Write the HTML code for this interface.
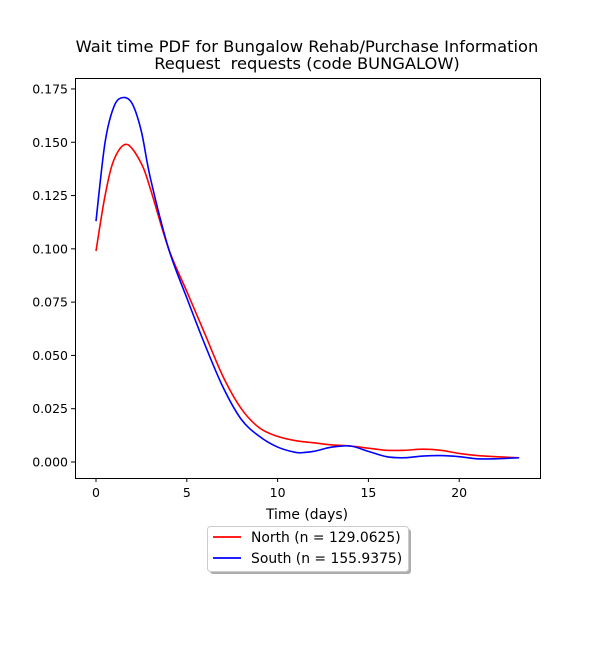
<!DOCTYPE html>
<html><head><meta charset="utf-8"><style>
body{margin:0;background:#fff;}
svg text{font-family:"DejaVu Sans","Liberation Sans",sans-serif;fill:#000;white-space:pre;}
</style></head><body>
<svg width="600" height="650" viewBox="0 0 600 650">
<rect width="600" height="650" fill="#fff"/>
<text x="307" y="52" font-size="16.3" text-anchor="middle">Wait time PDF for Bungalow Rehab/Purchase Information</text>
<text x="307" y="69" font-size="16.3" text-anchor="middle">Request&#160; requests (code BUNGALOW)</text>
<g id="plot"></g>
<rect x="75.5" y="78.5" width="465" height="400" fill="none" stroke="#000" stroke-width="1"/>
<text x="307" y="519" font-size="13.9" text-anchor="middle">Time (days)</text>
<g>
<rect x="210" y="529" width="201" height="45" fill="#777" opacity="0.6" rx="3"/>
<rect x="207.5" y="526.5" width="201" height="45" fill="#fff" stroke="#ccc" rx="3"/>
<line x1="213" y1="537" x2="241" y2="537" stroke="red" stroke-width="1.8"/>
<text x="251" y="542" font-size="13.9">North (n = 129.0625)</text>
<line x1="213" y1="558" x2="241" y2="558" stroke="blue" stroke-width="1.8"/>
<text x="251" y="563" font-size="13.9">South (n = 155.9375)</text>
</g>
</svg>
<script>
const xTicks=[0,5,10,15,20];
const yTicks=[0,0.025,0.05,0.075,0.1,0.125,0.15,0.175];
const yTickLabels=["0.000","0.025","0.050","0.075","0.100","0.125","0.150","0.175"];
const northX=[0,0.5,1,1.7,2.5,3,4,5,6,7,8,9,10,11,12,13,14,15,16,17,18,19,20,21,22,23.3];
const northY=[0.099,0.125,0.142,0.149,0.140,0.128,0.100,0.080,0.060,0.040,0.025,0.016,0.012,0.010,0.009,0.008,0.0075,0.0065,0.0055,0.0055,0.006,0.0055,0.004,0.003,0.0025,0.002];
const southX=[0,0.5,1,1.5,2,2.5,3,4,5,6,7,8,9,10,11,11.5,12,13,14,15,16,17,18,19,20,21,22,23.3];
const southY=[0.113,0.150,0.167,0.171,0.168,0.155,0.133,0.100,0.077,0.055,0.035,0.020,0.012,0.007,0.0045,0.0045,0.005,0.007,0.0075,0.005,0.0025,0.002,0.0028,0.003,0.0025,0.0015,0.0015,0.002];
const sx=v=>96+v*18.16;
const sy=v=>462-v/0.025*53.29;
const NS="http://www.w3.org/2000/svg";
const g=document.getElementById('plot');
function mk(t,a){const e=document.createElementNS(NS,t);for(const k in a)e.setAttribute(k,a[k]);g.appendChild(e);return e;}
xTicks.forEach(v=>{
 const l=mk('line',{x1:sx(v),x2:sx(v),y1:478.5,y2:482,stroke:'#000'});
 
 
 const t=mk('text',{x:sx(v),y:497,'font-size':12.5,'text-anchor':'middle'});t.textContent=v;
 
 
});
yTicks.forEach((v,i)=>{
 const l=mk('line',{x1:71,x2:75.5,y1:sy(v),y2:sy(v),stroke:'#000'});
 
 
 const t=mk('text',{x:68,y:sy(v)+4.5,'font-size':12.5,'text-anchor':'end'});t.textContent=yTickLabels[i];
 
 
});
function smooth(xs,ys){
 const p=xs.map((x,i)=>[sx(x),sy(ys[i])]);
 let d='M'+p[0][0]+','+p[0][1];
 for(let i=0;i<p.length-1;i++){
  const p0=p[Math.max(0,i-1)],p1=p[i],p2=p[i+1],p3=p[Math.min(p.length-1,i+2)];
  const c1=[p1[0]+(p2[0]-p0[0])/6,p1[1]+(p2[1]-p0[1])/6];
  const c2=[p2[0]-(p3[0]-p1[0])/6,p2[1]-(p3[1]-p1[1])/6];
  d+=` C${c1[0]},${c1[1]} ${c2[0]},${c2[1]} ${p2[0]},${p2[1]}`;
 }
 return d;
}
const n=mk('path',{d:smooth(northX,northY),fill:'none',stroke:'red','stroke-width':1.6});


const s=mk('path',{d:smooth(southX,southY),fill:'none',stroke:'blue','stroke-width':1.6});


</script>
</body></html>
